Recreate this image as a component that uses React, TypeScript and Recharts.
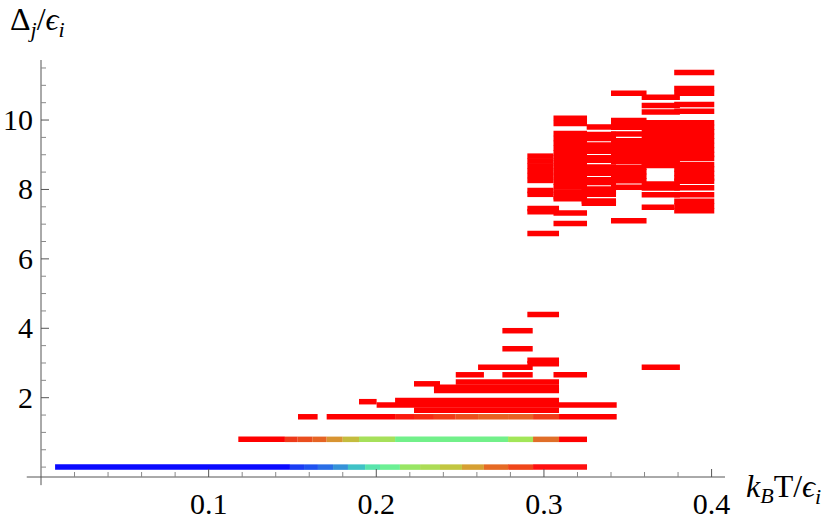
import React from 'react';
import { ComposedChart, XAxis, YAxis, ReferenceLine } from 'recharts';

const RED = '#ff0000';

// axis ticks (minor + major)
const xTicks = [0.02, 0.04, 0.06, 0.08, 0.1, 0.12, 0.14, 0.16, 0.18, 0.2, 0.22, 0.24, 0.26, 0.28, 0.3, 0.32, 0.34, 0.36, 0.38, 0.4];
const xLabels = [0.1, 0.2, 0.3, 0.4];
const yTicks = [0, 0.5, 1, 1.5, 2, 2.5, 3, 3.5, 4, 4.5, 5, 5.5, 6, 6.5, 7, 7.5, 8, 8.5, 9, 9.5, 10, 10.5, 11, 11.5];
const yLabels = [2, 4, 6, 8, 10];

// colored rows: [x1, x2, color]
const rowZero = [
  [0.0084, 0.1485, '#0a0aff'],
  [0.1485, 0.1569, '#1a3cf4'],
  [0.1569, 0.1652, '#1f52f0'],
  [0.1652, 0.1742, '#2a6ee6'],
  [0.1742, 0.1831, '#3592d8'],
  [0.1831, 0.1933, '#3fc2c6'],
  [0.1933, 0.2022, '#58e4ac'],
  [0.2022, 0.2141, '#6cf094'],
  [0.2141, 0.2261, '#98e664'],
  [0.2261, 0.238, '#acdc56'],
  [0.238, 0.2511, '#c2c640'],
  [0.2511, 0.2642, '#d6a032'],
  [0.2642, 0.2786, '#e66a24'],
  [0.2786, 0.2935, '#f0461a'],
  [0.2935, 0.3257, '#ff1010'],
];
const rowSecond = [
  [0.1177, 0.1455, RED],
  [0.1455, 0.1531, '#ee3a1a'],
  [0.1531, 0.1618, '#ea4e1e'],
  [0.1618, 0.1704, '#e66424'],
  [0.1704, 0.18, '#d89432'],
  [0.18, 0.1897, '#c4bc3e'],
  [0.1897, 0.2112, '#a6e05a'],
  [0.2112, 0.2786, '#72f08a'],
  [0.2786, 0.2935, '#a2e658'],
  [0.2935, 0.309, '#e06e28'],
  [0.309, 0.3257, RED],
];
const rowThird = [
  [0.1533, 0.165, RED],
  [0.1704, 0.2112, RED],
  [0.2112, 0.2225, '#fb1a0e'],
  [0.2225, 0.2344, '#f62a12'],
  [0.2344, 0.2474, '#f23c16'],
  [0.2474, 0.2607, '#ec501c'],
  [0.2607, 0.2786, '#e86222'],
  [0.2786, 0.2935, '#e86224'],
  [0.2935, 0.309, '#f03c18'],
  [0.309, 0.3434, RED],
];
const rowLevels = [0, 0.8, 1.45];

// single red levels in the low cluster: [y, x1, x2]
const lowLevels = [
  [1.885, 0.1897, 0.2002],
  [1.79, 0.2002, 0.3434],
  [1.92, 0.2112, 0.309],
  [1.64, 0.2225, 0.309],
  [2.45, 0.2474, 0.309],
  [2.3, 0.2344, 0.309],
  [2.21, 0.2344, 0.309],
  [2.4, 0.2225, 0.238],
  [2.66, 0.2474, 0.2642],
  [2.66, 0.2752, 0.2933],
  [2.66, 0.3057, 0.3257],
  [2.88, 0.2607, 0.2933],
  [2.98, 0.2901, 0.309],
  [3.08, 0.2901, 0.309],
  [3.41, 0.2752, 0.2933],
  [3.93, 0.2752, 0.2933],
  [4.4, 0.2901, 0.309],
  [2.88, 0.3583, 0.3811],
];

// high cluster, grouped by temperature column
const highColumns = [
  { x1: 0.2901, x2: 0.3057, levels: [8.96, 8.82, 8.68, 8.54, 8.4, 8.26, 7.97, 7.86] },
  { x1: 0.2901, x2: 0.309, levels: [7.45, 7.36, 6.73] },
  { x1: 0.3057, x2: 0.3257, levels: [10.05, 9.9, 9.61, 9.47, 9.33, 9.19, 9.05, 8.91, 8.77, 8.63, 8.49, 8.35, 8.21, 8.07, 7.93, 7.79, 7.73, 7.32, 7.02] },
  { x1: 0.3255, x2: 0.3404, levels: [9.8] },
  { x1: 0.3225, x2: 0.343, levels: [9.58, 9.47, 9.28, 9.17, 9.1, 8.91, 8.84, 8.65, 8.54, 8.47, 8.28, 8.2, 8.01, 7.93, 7.86, 7.67, 7.6] },
  { x1: 0.34, x2: 0.3612, levels: [10.77, 9.99, 9.86, 9.79, 9.6, 9.4, 9.27, 9.14, 9.01, 8.88, 8.81, 8.64, 8.51, 8.38, 8.25, 8.06, 7.1] },
  { x1: 0.3583, x2: 0.3811, levels: [10.66, 10.42, 10.23, 9.92, 9.79, 9.66, 9.53, 9.4, 9.27, 9.14, 9.01, 8.88, 8.76, 8.69, 8.16, 8.04, 7.85] },
  { x1: 0.3583, x2: 0.3777, levels: [7.49] },
  { x1: 0.3777, x2: 0.4016, levels: [11.37, 10.91, 10.77, 10.45, 10.25, 9.92, 9.79, 9.66, 9.53, 9.4, 9.27, 9.14, 9.01, 8.9, 8.72, 8.59, 8.46, 8.33, 8.24, 8.05, 7.85, 7.66, 7.52, 7.39] },
];

type Seg = { y: number; x1: number; x2: number; color: string };

const segments: Seg[] = [];
[rowZero, rowSecond, rowThird].forEach((row, r) => {
  row.forEach((p) => segments.push({ y: rowLevels[r], x1: p[0] as number, x2: p[1] as number, color: p[2] as string }));
});
lowLevels.forEach(([y, x1, x2]) => segments.push({ y, x1, x2, color: RED }));
highColumns.forEach((c) => c.levels.forEach((y) => segments.push({ y, x1: c.x1, x2: c.x2, color: RED })));

const FONT = '"Liberation Serif", "DejaVu Serif", serif';
const AXIS = '#555';

const XTick = (props: any) => {
  const { x, y, payload } = props;
  const major = xLabels.some((v) => Math.abs(v - payload.value) < 1e-6);
  return (
    <g>
      <line x1={x} x2={x} y1={y} y2={y - (major ? 8 : 5)} stroke={major ? AXIS : '#888'} />
      {major && (
        <text x={x} y={y + 37} textAnchor="middle" fontSize={30} fontFamily={FONT} fill="#000">
          {payload.value.toFixed(1)}
        </text>
      )}
    </g>
  );
};

const YTick = (props: any) => {
  const { x, y, payload } = props;
  const major = yLabels.includes(payload.value);
  return (
    <g>
      <line x1={x} x2={x + (major ? 8 : 5)} y1={y} y2={y} stroke={major ? AXIS : '#888'} />
      {major && (
        <text x={x - 8} y={y + 10} textAnchor="end" fontSize={30} fontFamily={FONT} fill="#000">
          {payload.value}
        </text>
      )}
    </g>
  );
};

export default function App() {
  return (
    <div style={{ position: 'absolute', left: 0, top: 0, width: 830, height: 521, background: '#fff' }}>
      <ComposedChart width={830} height={521} margin={{ top: 60, right: 105, bottom: 0, left: 0 }}>
        <XAxis
          type="number"
          dataKey="x"
          domain={[0, 0.408]}
          ticks={xTicks}
          interval={0}
          allowDataOverflow
          height={44}
          tickSize={0}
          tickMargin={0}
          tickLine={false}
          axisLine={{ stroke: AXIS }}
          tick={<XTick />}
        />
        <YAxis
          type="number"
          dataKey="y"
          domain={[-0.285, 11.73]}
          ticks={yTicks}
          interval={0}
          allowDataOverflow
          width={41}
          tickSize={0}
          tickMargin={0}
          tickLine={false}
          axisLine={{ stroke: AXIS }}
          tick={<YTick />}
        />
        <ReferenceLine segment={[{ x: -0.0085, y: -0.285 }, { x: 0, y: -0.285 }]} stroke={AXIS} ifOverflow="visible" />
        <ReferenceLine segment={[{ x: 0, y: -0.285 }, { x: 0, y: -0.52 }]} stroke={AXIS} ifOverflow="visible" />
        {segments.map((s, i) => (
          <ReferenceLine
            key={i}
            segment={[{ x: s.x1, y: s.y }, { x: s.x2, y: s.y }]}
            stroke={s.color}
            strokeWidth={5.5}
            ifOverflow="visible"
          />
        ))}
      </ComposedChart>
      <svg width={830} height={521} style={{ position: 'absolute', left: 0, top: 0, pointerEvents: 'none' }}>
        <text x={10} y={30} fontSize={32} fontFamily={FONT} fill="#000">
          Δ
          <tspan fontStyle="italic" fontSize={22} dy={7}>j</tspan>
          <tspan dy={-7}>/</tspan>
          <tspan fontStyle="italic">ϵ</tspan>
          <tspan fontStyle="italic" fontSize={22} dy={7}>i</tspan>
        </text>
        <text x={746} y={497} fontSize={32} fontFamily={FONT} fill="#000">
          <tspan fontStyle="italic">k</tspan>
          <tspan fontStyle="italic" fontSize={22} dy={6}>B</tspan>
          <tspan dy={-6}>T/</tspan>
          <tspan fontStyle="italic">ϵ</tspan>
          <tspan fontStyle="italic" fontSize={22} dy={7}>i</tspan>
        </text>
      </svg>
    </div>
  );
}
